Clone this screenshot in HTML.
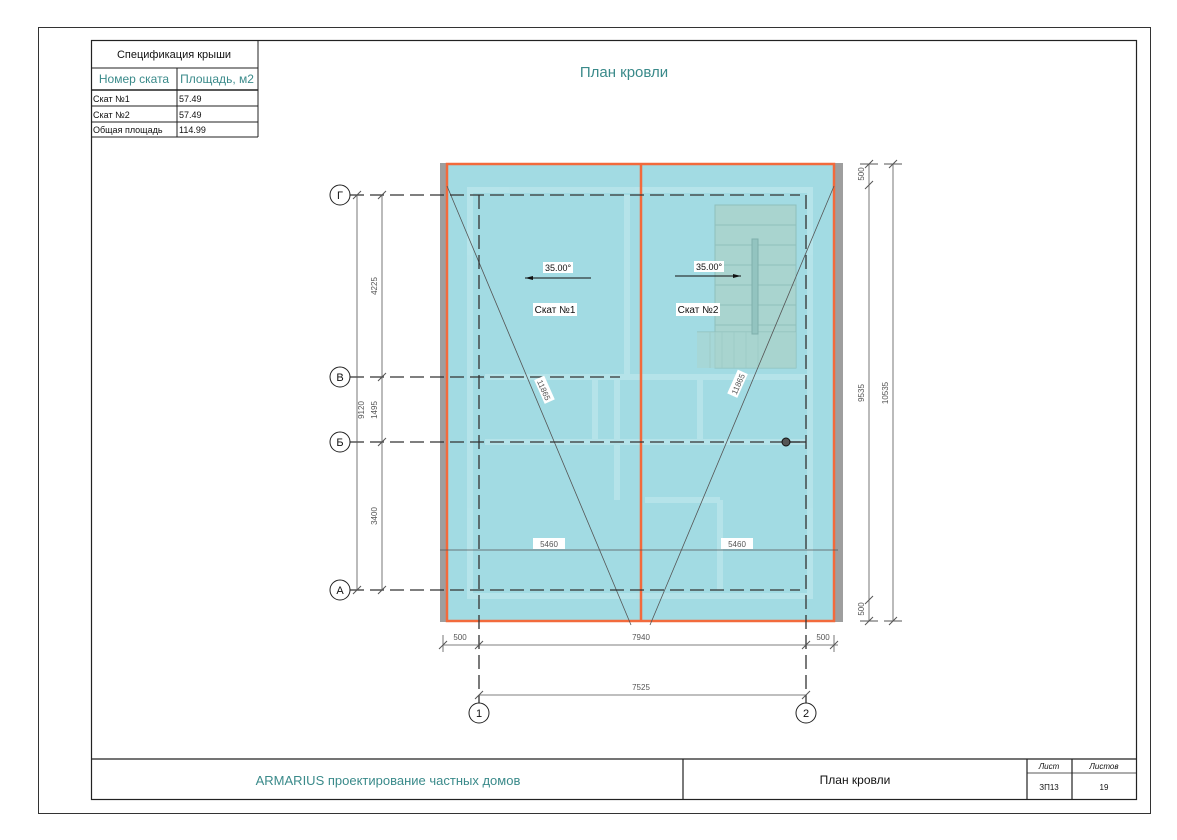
<!DOCTYPE html>
<html><head><meta charset="utf-8"><style>
html,body{margin:0;padding:0;background:#fff;}
svg{display:block;font-family:"Liberation Sans","DejaVu Sans",sans-serif;}
</style></head><body>
<svg width="1177" height="840" viewBox="0 0 1177 840" xmlns="http://www.w3.org/2000/svg">
<rect x="0" y="0" width="1177" height="840" fill="#fff"/>
<rect x="38.5" y="27.5" width="1112" height="786" fill="none" stroke="#333" stroke-width="1"/>
<rect x="91.5" y="40.5" width="1045" height="759" fill="none" stroke="#222" stroke-width="1.2"/>
<!-- spec table -->
<g stroke="#222" stroke-width="1" fill="none">
<line x1="258" y1="40" x2="258" y2="137"/>
<line x1="91" y1="68" x2="258" y2="68"/>
<line x1="91" y1="90" x2="258" y2="90" stroke-width="1.5"/>
<line x1="91" y1="106" x2="258" y2="106"/>
<line x1="91" y1="122" x2="258" y2="122"/>
<line x1="91" y1="137" x2="258" y2="137"/>
<line x1="177" y1="68" x2="177" y2="137"/>
</g>
<g font-size="10" fill="#111">
<text x="174" y="58" text-anchor="middle" font-size="11">Спецификация крыши</text>
<text x="134" y="83" text-anchor="middle" font-size="12" fill="#3a8a8a">Номер ската</text>
<text x="217" y="83" text-anchor="middle" font-size="12" fill="#3a8a8a">Площадь, м2</text>
<text x="93" y="102" font-size="9">Скат №1</text><text x="179" y="102" font-size="9">57.49</text>
<text x="93" y="118" font-size="9">Скат №2</text><text x="179" y="118" font-size="9">57.49</text>
<text x="93" y="133" font-size="9">Общая площадь</text><text x="179" y="133" font-size="9">114.99</text>
</g>
<text x="624" y="77" text-anchor="middle" font-size="15" fill="#3a8a8a">План кровли</text>
<!-- roof -->
<rect x="440" y="163" width="403" height="459" fill="#9e9e9e"/>
<rect x="447" y="163" width="387" height="459" fill="#a2dbe3"/>
<!-- walls -->
<g fill="none" stroke="#b8e4ea" stroke-width="6" opacity="0.9">
<rect x="470" y="190" width="340" height="406"/>
<line x1="485" y1="377" x2="810" y2="377"/>
<line x1="485" y1="442" x2="810" y2="442"/>
<line x1="627" y1="195" x2="627" y2="377"/>
<line x1="617" y1="377" x2="617" y2="500"/>
<line x1="645" y1="500" x2="720" y2="500"/>
<line x1="720" y1="500" x2="720" y2="590"/>
<line x1="595" y1="377" x2="595" y2="440"/>
<line x1="700" y1="377" x2="700" y2="440"/>
</g>
<rect x="715" y="205" width="81" height="163" fill="#a9d4cf" stroke="#8fbfbb"/>
<g stroke="#8fbfbb" stroke-width="1">
<line x1="715" y1="225" x2="796" y2="225"/><line x1="715" y1="245" x2="796" y2="245"/>
<line x1="715" y1="265" x2="796" y2="265"/><line x1="715" y1="285" x2="796" y2="285"/>
<line x1="715" y1="305" x2="796" y2="305"/><line x1="715" y1="325" x2="796" y2="325"/>
<line x1="697" y1="332" x2="796" y2="332"/>
<line x1="710" y1="332" x2="710" y2="368"/><line x1="722" y1="332" x2="722" y2="368"/>
<line x1="734" y1="332" x2="734" y2="368"/><line x1="746" y1="332" x2="746" y2="368"/>
<line x1="758" y1="332" x2="758" y2="368"/>
</g>
<rect x="697" y="332" width="99" height="36" fill="#a9d4cf" opacity="0.6"/>
<rect x="752" y="239" width="6" height="95" fill="#93c4c0" stroke="#7fb0ac"/>
<!-- orange outline -->
<rect x="447" y="164" width="387" height="457" fill="none" stroke="#f26a3c" stroke-width="2.5"/>
<line x1="641" y1="164" x2="641" y2="621" stroke="#f26a3c" stroke-width="2.5"/>
<!-- diagonals -->
<g stroke="#555" stroke-width="0.8">
<line x1="447" y1="186" x2="631" y2="625"/>
<line x1="834" y1="186" x2="650" y2="625"/>
</g>
<!-- grid dashed -->
<g stroke="#333" stroke-width="1.3" stroke-dasharray="14,6" fill="none">
<line x1="350" y1="195" x2="800" y2="195"/>
<line x1="350" y1="377" x2="620" y2="377"/>
<line x1="350" y1="442" x2="800" y2="442"/>
<line x1="350" y1="590" x2="800" y2="590"/>
<line x1="479" y1="195" x2="479" y2="703"/>
<line x1="806" y1="195" x2="806" y2="703"/>
</g>
<line x1="790" y1="442" x2="806" y2="442" stroke="#333" stroke-width="1.3"/>
<circle cx="786" cy="442" r="4" fill="#555" stroke="#111"/>
<!-- axis circles -->
<g fill="#fff" stroke="#222" stroke-width="1">
<circle cx="340" cy="195" r="10"/><circle cx="340" cy="377" r="10"/>
<circle cx="340" cy="442" r="10"/><circle cx="340" cy="590" r="10"/>
<circle cx="479" cy="713" r="10"/><circle cx="806" cy="713" r="10"/>
</g>
<g font-size="11" text-anchor="middle" fill="#111">
<text x="340" y="199">Г</text><text x="340" y="381">В</text>
<text x="340" y="446">Б</text><text x="340" y="594">А</text>
<text x="479" y="717">1</text><text x="806" y="717">2</text>
</g>
<!-- dims -->
<g stroke="#555" stroke-width="0.8" fill="none">
<line x1="357" y1="195" x2="357" y2="590"/>
<line x1="382" y1="195" x2="382" y2="590"/>
<line x1="869" y1="164" x2="869" y2="621"/>
<line x1="893" y1="164" x2="893" y2="621"/>
<line x1="440" y1="550" x2="838" y2="550"/>
<line x1="443" y1="645" x2="838" y2="645"/>
<line x1="479" y1="695" x2="806" y2="695"/>
<line x1="443" y1="635" x2="443" y2="652"/><line x1="834" y1="635" x2="834" y2="652"/>
<g stroke-width="1">
<line x1="353" y1="199" x2="361" y2="191"/><line x1="353" y1="594" x2="361" y2="586"/>
<line x1="378" y1="199" x2="386" y2="191"/><line x1="378" y1="381" x2="386" y2="373"/>
<line x1="378" y1="446" x2="386" y2="438"/><line x1="378" y1="594" x2="386" y2="586"/>
<line x1="865" y1="168" x2="873" y2="160"/><line x1="865" y1="189" x2="873" y2="181"/>
<line x1="865" y1="604" x2="873" y2="596"/><line x1="865" y1="625" x2="873" y2="617"/>
<line x1="889" y1="168" x2="897" y2="160"/><line x1="889" y1="625" x2="897" y2="617"/>
<line x1="439" y1="649" x2="447" y2="641"/><line x1="475" y1="649" x2="483" y2="641"/>
<line x1="802" y1="649" x2="810" y2="641"/><line x1="830" y1="649" x2="838" y2="641"/>
<line x1="475" y1="699" x2="483" y2="691"/><line x1="802" y1="699" x2="810" y2="691"/>
<line x1="860" y1="164" x2="878" y2="164"/><line x1="860" y1="621" x2="878" y2="621"/>
<line x1="884" y1="164" x2="902" y2="164"/><line x1="884" y1="621" x2="902" y2="621"/>
</g>
</g>
<g font-size="8" fill="#555" text-anchor="middle">
<text transform="translate(364,410) rotate(-90)">9120</text>
<text transform="translate(377,286) rotate(-90)">4225</text>
<text transform="translate(377,410) rotate(-90)">1495</text>
<text transform="translate(377,516) rotate(-90)">3400</text>
<text transform="translate(864,174) rotate(-90)">500</text>
<text transform="translate(864,393) rotate(-90)">9535</text>
<text transform="translate(864,609) rotate(-90)">500</text>
<text transform="translate(888,393) rotate(-90)">10535</text>
<text x="460" y="640">500</text><text x="641" y="640">7940</text><text x="823" y="640">500</text>
<text x="641" y="690">7525</text>
</g>
<rect x="533" y="538" width="32" height="11" fill="#fff"/><text x="549" y="547" font-size="8" fill="#555" text-anchor="middle">5460</text>
<rect x="721" y="538" width="32" height="11" fill="#fff"/><text x="737" y="547" font-size="8" fill="#555" text-anchor="middle">5460</text>
<g transform="translate(544,390) rotate(66)"><rect x="-13" y="-6" width="26" height="11" fill="#fff"/><text x="0" y="3" font-size="8" fill="#555" text-anchor="middle">11865</text></g>
<g transform="translate(738,384) rotate(-66)"><rect x="-13" y="-6" width="26" height="11" fill="#fff"/><text x="0" y="3" font-size="8" fill="#555" text-anchor="middle">11865</text></g>
<!-- slope arrows -->
<rect x="543" y="262" width="30" height="11" fill="#fff"/><text x="558" y="271" font-size="9" text-anchor="middle" fill="#111">35.00°</text>
<line x1="525" y1="278" x2="591" y2="278" stroke="#111" stroke-width="1"/>
<polygon points="525,278 533,276 533,280" fill="#111"/>
<rect x="694" y="261" width="30" height="11" fill="#fff"/><text x="709" y="270" font-size="9" text-anchor="middle" fill="#111">35.00°</text>
<line x1="675" y1="276" x2="741" y2="276" stroke="#111" stroke-width="1"/>
<polygon points="741,276 733,274 733,278" fill="#111"/>
<rect x="533" y="303" width="44" height="13" fill="#fff"/><text x="555" y="313" font-size="10" text-anchor="middle" fill="#111">Скат №1</text>
<rect x="676" y="303" width="44" height="13" fill="#fff"/><text x="698" y="313" font-size="10" text-anchor="middle" fill="#111">Скат №2</text>
<!-- title block -->
<g stroke="#222" stroke-width="1.2" fill="none">
<line x1="91" y1="759" x2="1137" y2="759"/>
<line x1="683" y1="759" x2="683" y2="800"/>
<line x1="1027" y1="759" x2="1027" y2="800"/>
<line x1="1072" y1="759" x2="1072" y2="800"/>
<line x1="1027" y1="773" x2="1137" y2="773" stroke-width="0.8"/>
</g>
<text x="388" y="785" font-size="13" text-anchor="middle" fill="#3a8a8a">ARMARIUS проектирование частных домов</text>
<text x="855" y="784" font-size="12" text-anchor="middle" fill="#111">План кровли</text>
<text x="1049" y="769" font-size="8" text-anchor="middle" font-style="italic" fill="#111">Лист</text>
<text x="1104" y="769" font-size="8" text-anchor="middle" font-style="italic" fill="#111">Листов</text>
<text x="1049" y="790" font-size="8" text-anchor="middle" fill="#111">ЗП13</text>
<text x="1104" y="790" font-size="8" text-anchor="middle" fill="#111">19</text>
</svg>
</body></html>
